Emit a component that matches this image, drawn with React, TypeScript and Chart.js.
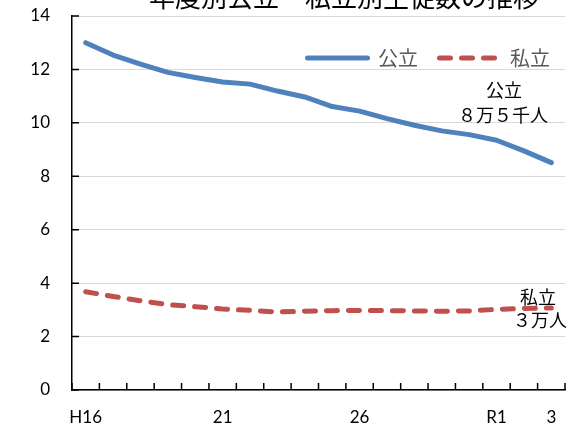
import { useEffect, useRef } from "react";
import { Chart, registerables } from "chart.js";

Chart.register(...registerables);

const categories = ["H16", "H17", "H18", "H19", "H20", "H21", "H22", "H23", "H24", "H25", "H26", "H27", "H28", "H29", "H30", "R1", "R2", "R3"];
const tickLabels = ["H16", "", "", "", "", "21", "", "", "", "", "26", "", "", "", "", "R1", "", "3"];
const publicValues = [13.0, 12.54, 12.2, 11.89, 11.7, 11.53, 11.45, 11.19, 10.97, 10.61, 10.44, 10.16, 9.91, 9.7, 9.56, 9.35, 8.95, 8.51];
const privateValues = [3.68, 3.5, 3.34, 3.2, 3.12, 3.03, 2.98, 2.92, 2.95, 2.97, 2.98, 2.97, 2.96, 2.95, 2.96, 3.02, 3.05, 3.07];
const yTicks = [0, 2, 4, 6, 8, 10, 12, 14];
const seriesNames = ["公立", "私立"];
const titleText = "年度別公立・私立別生徒数の推移";
const publicNote = ["公立", "８万５千人"];
const privateNote = ["私立", "３万人"];

const CJK = '"Noto Sans CJK JP", "Noto Sans", sans-serif';
const LATIN = 'Lato, "Noto Sans", sans-serif';

const overlayPlugin = {
  id: "overlay",
  afterDraw(chart: any) {
    const { ctx, chartArea } = chart;
    const xs = chart.scales.x;
    const ys = chart.scales.y;
    ctx.save();
    ctx.strokeStyle = "#000";
    ctx.lineWidth = 1.5;
    ctx.beginPath();
    yTicks.forEach((v) => {
      const y = ys.getPixelForValue(v);
      ctx.moveTo(chartArea.left, y);
      ctx.lineTo(chartArea.left + 7, y);
    });
    const step = xs.getPixelForValue(1) - xs.getPixelForValue(0);
    for (let i = 0; i <= categories.length; i++) {
      const x = xs.getPixelForValue(i) - step / 2;
      ctx.moveTo(x, chartArea.bottom);
      ctx.lineTo(x, chartArea.bottom - 7);
    }
    ctx.stroke();

    const legendY = 58;
    let lx = 307.5;
    const sampleW = 60;
    ctx.font = `20px ${CJK}`;
    ctx.textBaseline = "middle";
    ctx.textAlign = "left";
    chart.data.datasets.forEach((ds: any) => {
      ctx.beginPath();
      ctx.strokeStyle = ds.borderColor;
      ctx.lineWidth = ds.borderWidth;
      ctx.lineCap = "round";
      ctx.setLineDash(ds.borderDash || []);
      ctx.moveTo(lx, legendY);
      ctx.lineTo(lx + sampleW, legendY);
      ctx.stroke();
      ctx.setLineDash([]);
      const tx = lx + sampleW + 10.5;
      ctx.fillStyle = "#595959";
      ctx.fillText(ds.label, tx, legendY);
      lx = tx + ctx.measureText(ds.label).width + 21.5;
    });

    ctx.fillStyle = "#000";
    ctx.textAlign = "center";
    ctx.font = `18px ${CJK}`;
    ctx.fillText(publicNote[0], 504, 90.5);
    ctx.fillText(publicNote[1], 503, 115);
    ctx.fillText(privateNote[0], 538, 297.5);
    ctx.fillText(privateNote[1], 540, 320.5);

    ctx.font = `26px ${CJK}`;
    ctx.textBaseline = "alphabetic";
    ctx.fillText(titleText, 344, 7);
    ctx.restore();
  },
};

export default function App() {
  const ref = useRef<HTMLCanvasElement | null>(null);
  useEffect(() => {
    if (!ref.current) return;
    const chart = new Chart(ref.current, {
      type: "line",
      data: {
        labels: categories,
        datasets: [
          {
            label: seriesNames[0],
            data: publicValues,
            borderColor: "#4F81BD",
            borderWidth: 5,
            pointRadius: 0,
            tension: 0,
            borderCapStyle: "round",
            borderJoinStyle: "round",
          },
          {
            label: seriesNames[1],
            data: privateValues,
            borderColor: "#C0504D",
            borderWidth: 5,
            borderDash: [11, 11],
            pointRadius: 0,
            tension: 0,
            borderCapStyle: "round",
            borderJoinStyle: "round",
          },
        ],
      },
      options: {
        animation: false,
        responsive: false,
        layout: { padding: { top: 16, right: 7, left: 0, bottom: 0 } },
        plugins: {
          legend: { display: false },
          title: { display: false },
          tooltip: { enabled: false },
        },
        scales: {
          x: {
            offset: true,
            grid: {
              display: true,
              offset: true,
              drawOnChartArea: false,
              drawTicks: true,
              tickLength: 17,
              tickColor: "rgba(0,0,0,0)",
            },
            border: { display: true, color: "#000", width: 1.5 },
            ticks: {
              autoSkip: false,
              maxRotation: 0,
              padding: 0,
              color: "#000",
              font: { family: LATIN, size: 17 },
              callback: (_v: any, i: number) => tickLabels[i],
            },
            afterFit: (s: any) => {
              s.height = 36;
            },
          },
          y: {
            min: 0,
            max: 14,
            ticks: {
              stepSize: 2,
              padding: 0,
              color: "#000",
              font: { family: LATIN, size: 17 },
            },
            grid: {
              color: "#D9D9D9",
              lineWidth: 1,
              drawTicks: true,
              tickLength: 22,
              tickColor: "rgba(0,0,0,0)",
            },
            border: { display: true, color: "#000", width: 1.5 },
            afterFit: (s: any) => {
              s.width = 72;
            },
          },
        },
      },
      plugins: [overlayPlugin],
    });
    return () => chart.destroy();
  }, []);
  return (
    <div style={{ position: "absolute", left: 0, top: 0, width: 572, height: 426, background: "#fff" }}>
      <canvas ref={ref} width={572} height={426} style={{ display: "block" }} />
    </div>
  );
}
